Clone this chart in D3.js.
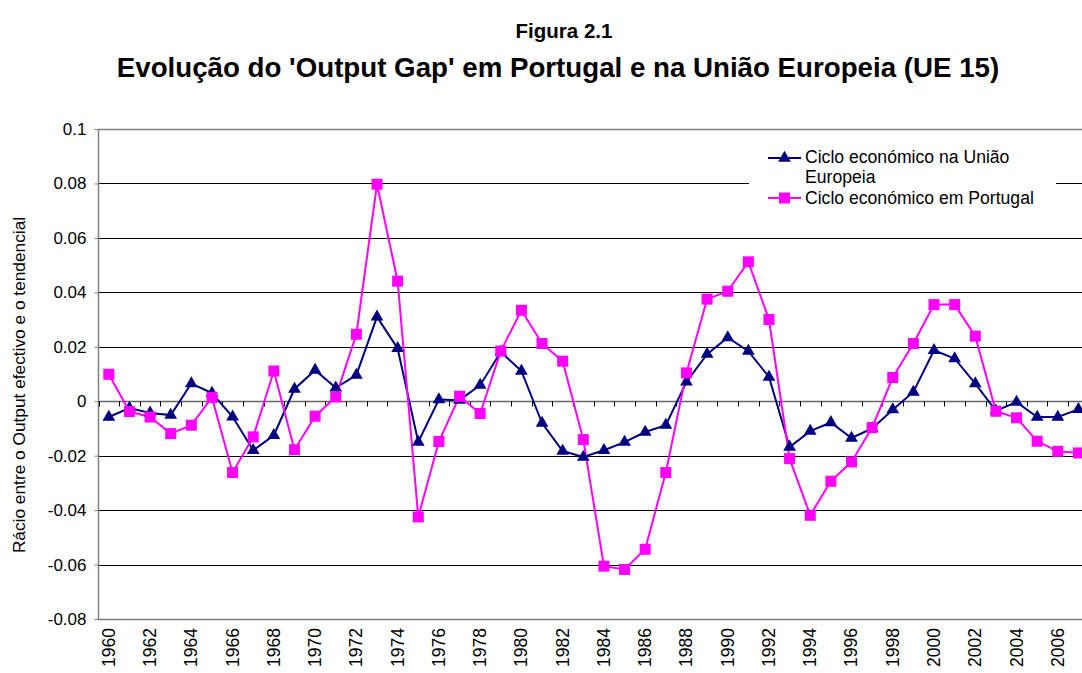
<!DOCTYPE html>
<html>
<head>
<meta charset="utf-8">
<script src="https://cdn.jsdelivr.net/npm/d3@7"></script>
<style>
  body { margin: 0; background: #fff; }
  text { font-family: "Liberation Sans", Arial, sans-serif; fill: #000; }
</style>
</head>
<body>
<div id="chart"></div>
<script>
// categories and series
var years = d3.range(1960, 2008);

var euCycle = [-0.0058, -0.0025, -0.0043, -0.0051, 0.0065, 0.0030, -0.0057, -0.0180, -0.0125, 0.0045,
               0.0114, 0.0049, 0.0096, 0.0310, 0.0194, -0.0150, 0.0006, 0.0004, 0.0059, 0.0181,
               0.0111, -0.0080, -0.0183, -0.0205, -0.0180, -0.0150, -0.0113, -0.0088, 0.0071, 0.0173,
               0.0234, 0.0184, 0.0089, -0.0168, -0.0110, -0.0078, -0.0135, -0.0100, -0.0031, 0.0034,
               0.0187, 0.0157, 0.0065, -0.0035, -0.0003, -0.0058, -0.0058, -0.0030];

var ptCycle = [0.0099, -0.0038, -0.0058, -0.0119, -0.0088, 0.0014, -0.0262, -0.0131, 0.0111, -0.0178,
               -0.0055, 0.0016, 0.0246, 0.0797, 0.0441, -0.0425, -0.0148, 0.0018, -0.0045, 0.0184,
               0.0334, 0.0212, 0.0147, -0.0141, -0.0606, -0.0618, -0.0544, -0.0262, 0.0104, 0.0375,
               0.0404, 0.0512, 0.0300, -0.0211, -0.0419, -0.0294, -0.0223, -0.0097, 0.0087, 0.0212,
               0.0355, 0.0355, 0.0239, -0.0037, -0.0061, -0.0147, -0.0184, -0.0190];

var yTicks = [0.1, 0.08, 0.06, 0.04, 0.02, 0, -0.02, -0.04, -0.06, -0.08];
var xLabels = years.filter(function(y) { return y % 2 == 0; });

var seriesNames = ["Ciclo económico na União Europeia", "Ciclo económico em Portugal"];

var W = 1082, H = 673;
var plot = {left: 98.5, top: 129, bottom: 619, step: 20.63};

var svg = d3.select("#chart").append("svg")
    .attr("width", W)
    .attr("height", H);

var x = d3.scaleBand()
    .domain(years)
    .range([plot.left, plot.left + plot.step * years.length]);

var y = d3.scaleLinear()
    .domain([-0.08, 0.1])
    .range([plot.bottom, plot.top]);

var cx = function(d, i) { return x(years[i]) + x.bandwidth() / 2; };

// titles
svg.append("text")
    .attr("x", 564).attr("y", 38)
    .attr("text-anchor", "middle")
    .style("font-weight", "bold").style("font-size", "20.5px")
    .text("Figura 2.1");
svg.append("text")
    .attr("x", 558).attr("y", 77)
    .attr("text-anchor", "middle")
    .style("font-weight", "bold").style("font-size", "27.7px")
    .text("Evolução do 'Output Gap' em Portugal e na União Europeia (UE 15)");

// gridlines
svg.append("g")
  .selectAll("line")
  .data(yTicks.filter(function(t) { return t != 0.1 && t != -0.08 && t != 0; }))
  .enter().append("line")
    .attr("x1", plot.left).attr("x2", W)
    .attr("y1", function(d) { return Math.round(y(d)) + 0.5; })
    .attr("y2", function(d) { return Math.round(y(d)) + 0.5; })
    .style("stroke", "#000").style("stroke-width", 1);

// plot border (top, bottom, left)
svg.append("path")
    .attr("d", "M" + W + "," + (plot.top + 0.5) + "H" + plot.left + "V" + (plot.bottom + 0.5) + "H" + W)
    .style("fill", "none").style("stroke", "#808080").style("stroke-width", 1.5);

// y axis (plain hyphen for negatives, like the original)
var yAxis = svg.append("g")
    .attr("transform", "translate(" + plot.left + ",0)")
    .call(d3.axisLeft(y).tickValues(yTicks).tickSize(4).tickPadding(8)
        .tickFormat(function(d) { return String(+d.toFixed(2)); }));
yAxis.select(".domain").remove();
yAxis.selectAll(".tick line").style("stroke", "#808080");
yAxis.selectAll(".tick text").style("font-size", "17px").style("font-family", "Liberation Sans, Arial, sans-serif");

// x axis sits on the zero line, ticks between categories
var zeroY = Math.round(y(0)) + 0.5;
svg.append("line")
    .attr("x1", plot.left).attr("x2", W)
    .attr("y1", zeroY).attr("y2", zeroY)
    .style("stroke", "#666").style("stroke-width", 1.5);
svg.append("g")
  .selectAll("line")
  .data(years)
  .enter().append("line")
    .attr("x1", function(d) { return Math.round(x(d)) + 0.5; })
    .attr("x2", function(d) { return Math.round(x(d)) + 0.5; })
    .attr("y1", zeroY).attr("y2", zeroY + 5)
    .style("stroke", "#000");

// x labels, rotated, below the plot
svg.append("g")
  .selectAll("text")
  .data(xLabels)
  .enter().append("text")
    .attr("transform", function(d) {
        return "translate(" + (x(d) + x.bandwidth() / 2 + 6) + "," + 628 + ") rotate(-90)";
    })
    .attr("text-anchor", "end")
    .style("font-size", "17.5px")
    .text(function(d) { return d; });

// y axis title
svg.append("text")
    .attr("transform", "translate(25,385) rotate(-90)")
    .attr("text-anchor", "middle")
    .style("font-size", "17.3px")
    .text("Rácio entre o Output efectivo e o tendencial");

// series
var line = d3.line()
    .x(cx)
    .y(function(d) { return y(d); });

var triangle = d3.symbol().type(d3.symbolTriangle).size(70);

svg.append("path")
    .datum(euCycle)
    .attr("d", line)
    .style("fill", "none").style("stroke", "#000080").style("stroke-width", 2);

svg.append("path")
    .datum(ptCycle)
    .attr("d", line)
    .style("fill", "none").style("stroke", "#FF00FF").style("stroke-width", 2);

svg.append("g")
  .selectAll("path")
  .data(euCycle)
  .enter().append("path")
    .attr("d", triangle)
    .attr("transform", function(d, i) { return "translate(" + cx(d, i) + "," + y(d) + ")"; })
    .style("fill", "#000080");

svg.append("g")
  .selectAll("rect")
  .data(ptCycle)
  .enter().append("rect")
    .attr("x", function(d, i) { return cx(d, i) - 5.5; })
    .attr("y", function(d) { return y(d) - 5.5; })
    .attr("width", 11).attr("height", 11)
    .style("fill", "#FF00FF");

// legend
var legend = svg.append("g");
legend.append("rect")
    .attr("x", 749).attr("y", 145)
    .attr("width", 307).attr("height", 64)
    .style("fill", "#fff");

var legendRows = [
    {y: 158, color: "#000080", lines: ["Ciclo económico na União", "Europeia"], textY: 162.5},
    {y: 198, color: "#FF00FF", lines: [seriesNames[1]], textY: 203.5}
];

legendRows.forEach(function(r, i) {
    legend.append("line")
        .attr("x1", 768).attr("x2", 801)
        .attr("y1", r.y).attr("y2", r.y)
        .style("stroke", r.color).style("stroke-width", 2);
    if (i == 0) {
        legend.append("path")
            .attr("d", triangle)
            .attr("transform", "translate(784.5," + r.y + ")")
            .style("fill", r.color);
    } else {
        legend.append("rect")
            .attr("x", 779).attr("y", r.y - 5.5)
            .attr("width", 11).attr("height", 11)
            .style("fill", r.color);
    }
    r.lines.forEach(function(t, j) {
        legend.append("text")
            .attr("x", 805).attr("y", r.textY + j * 20.2)
            .style("font-size", "17.6px")
            .text(t);
    });
});
</script>
</body>
</html>
